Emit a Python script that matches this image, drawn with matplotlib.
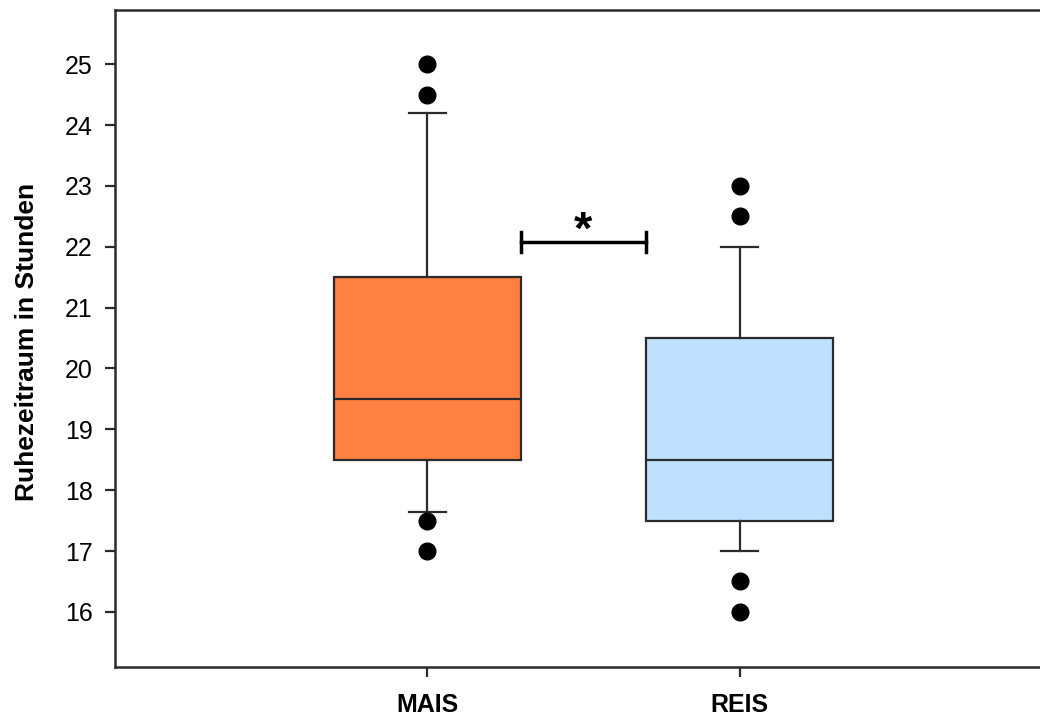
import matplotlib.pyplot as plt

plt.rcParams['font.family'] = ['Liberation Sans', 'DejaVu Sans']

groups = ["MAIS", "REIS"]
q1 = [18.5, 17.5]
medians = [19.5, 18.5]
q3 = [21.5, 20.5]
whisker_lo = [17.65, 17.0]
whisker_hi = [24.2, 22.0]
outliers = [[25.0, 24.5, 17.5, 17.0], [23.0, 22.5, 16.5, 16.0]]
box_colors = ["#FF8040", "#BFE1FF"]

# significance bracket between the two boxes
sig_y = 22.08
sig_label = "*"

line_col = "#2b2b2b"

stats = []
for i, name in enumerate(groups):
    stats.append(dict(label=name, q1=q1[i], med=medians[i], q3=q3[i],
                      whislo=whisker_lo[i], whishi=whisker_hi[i],
                      fliers=outliers[i]))

fig = plt.figure(figsize=(10.4, 7.19), dpi=100)
ax = fig.add_axes([115 / 1040, 1 - 666.7 / 719, 925 / 1040, 656.7 / 719])

bp = ax.bxp(stats, positions=[1, 2], widths=0.6, capwidths=0.12,
            patch_artist=True,
            boxprops=dict(linewidth=1.6, edgecolor=line_col),
            medianprops=dict(linewidth=1.6, color=line_col),
            whiskerprops=dict(linewidth=1.6, color=line_col),
            capprops=dict(linewidth=1.6, color=line_col),
            flierprops=dict(marker="o", markersize=12, markerfacecolor="black",
                            markeredgecolor="black"))
for patch, c in zip(bp["boxes"], box_colors):
    patch.set_facecolor(c)

# bracket
ax.plot([1.3, 1.7], [sig_y, sig_y], color="black", linewidth=2.5)
for xe in (1.3, 1.7):
    ax.plot([xe, xe], [sig_y - 0.17, sig_y + 0.17], color="black", linewidth=2.5)
ax.text(1.5, sig_y - 0.03, sig_label, ha="center", va="baseline",
        fontsize=34, fontweight="bold")

ax.set_xlim(0, 925 / 312.3)
ax.set_ylim(15.1, 25.89)
ax.set_yticks(range(16, 26))
ax.set_xticks([1, 2])
ax.set_xticklabels(groups, fontsize=18, fontweight="bold")
ax.tick_params(axis="y", labelsize=18, length=7, width=1.6, pad=9, color=line_col)
ax.tick_params(axis="x", length=7, width=1.6, pad=12, color=line_col)

for side in ("left", "bottom", "top"):
    ax.spines[side].set_linewidth(1.8)
    ax.spines[side].set_color(line_col)
ax.spines["right"].set_visible(False)

ax.set_ylabel("Ruhezeitraum in Stunden", fontsize=19, fontweight="bold")
ax.yaxis.set_label_coords(-0.082, 1 - (342 - 10) / 656.7)

fig.savefig("out.png", dpi=100)
